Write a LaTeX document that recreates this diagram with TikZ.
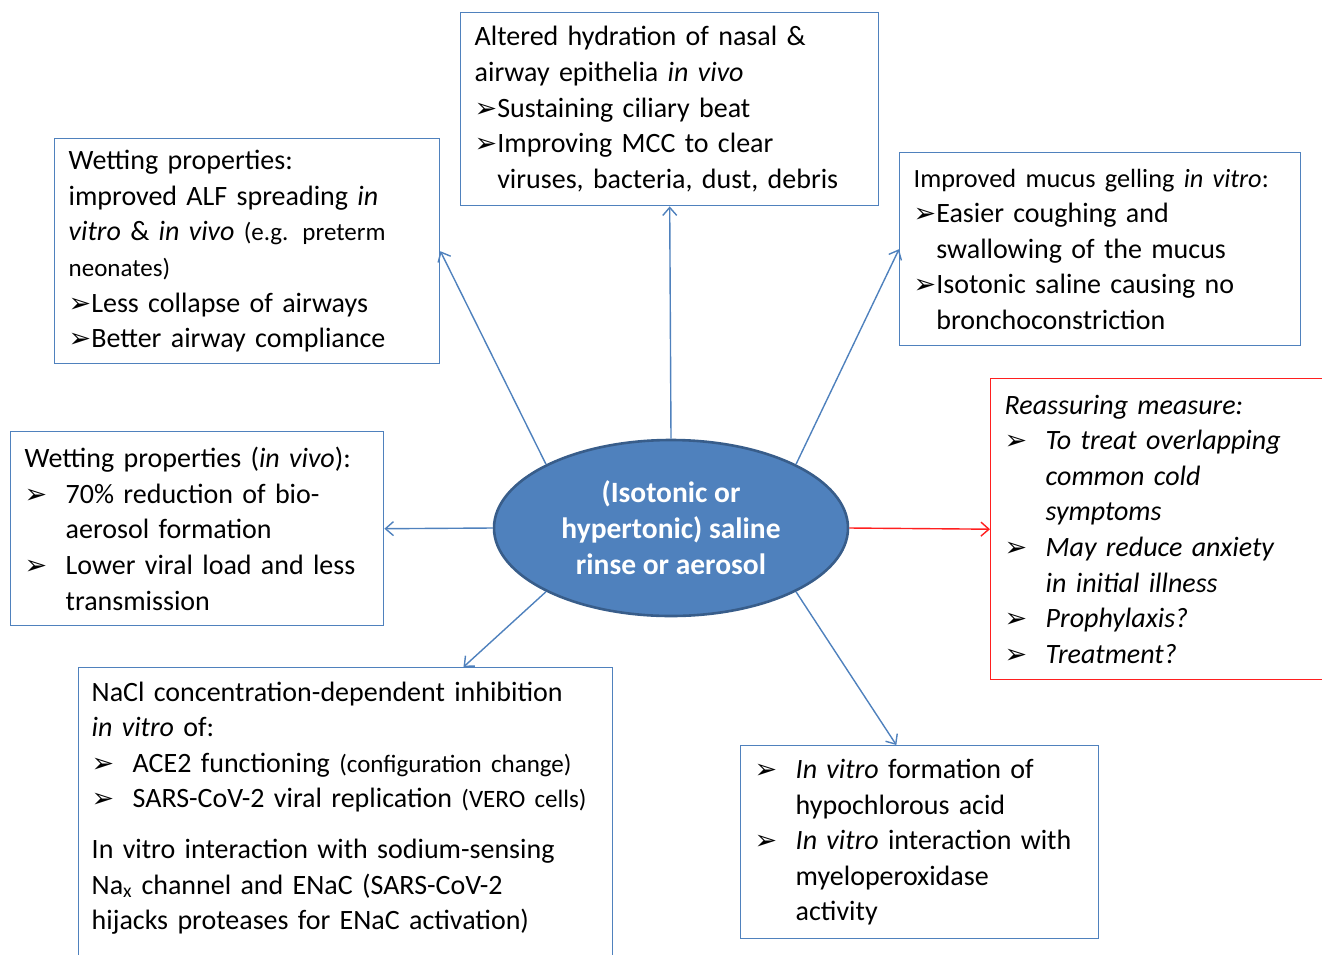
\documentclass[tikz,border=0pt]{standalone}
\usepackage{fontspec}
\setmainfont{Carlito}
\newfontfamily\symfont{DejaVu Sans}
\usepackage{xcolor}
\usepackage{tikz}
\usetikzlibrary{calc,shapes.geometric,arrows.meta}
\definecolor{boxblue}{HTML}{4F81BD}
\definecolor{ellline}{HTML}{385D8A}
\definecolor{warnred}{HTML}{FF1F1F}
\newcommand{\fs}{\fontsize{28}{35.6}\selectfont}
\newcommand{\sm}{\fontsize{25}{30}\selectfont}
\newcommand{\arrbul}{{\upshape\symfont\bfseries\fontsize{27}{27}\selectfont\char"27A2}}
\newcommand{\tabbul}{\makebox[41pt][l]{\arrbul}}
\newcommand{\hang}{\hspace*{41pt}}
\tikzset{
  box/.style={draw=boxblue, line width=1.4pt, anchor=north west, inner xsep=14pt,
    inner ysep=0pt, align=left, font=\fs, text=black},
  redbox/.style={box, draw=warnred},
  link/.style={draw=boxblue, line width=1.4pt, -{Straight Barb[length=8pt,width=14pt]}},
  redlink/.style={link, draw=warnred},
  core/.style={ellipse, draw=ellline, fill=boxblue, line width=2.6pt, minimum width=354pt,
    minimum height=176pt, inner sep=0pt, align=center, text=white,
    font=\fontsize{29.5}{36}\selectfont\bfseries},
}
\begin{document}
\begin{tikzpicture}[x=1pt,y=-1pt]
  \useasboundingbox (0,0) rectangle (1322,954);
  \node[core] (ctr) at (671,528) {(Isotonic or\\hypertonic) saline\\rinse or aerosol};
  % boxes round the centre
  \node[box, text width=390pt, minimum height=193pt] (hyd) at (460,12)
    {Altered hydration of nasal \&\\
     airway epithelia \textit{in vivo}\\
     \arrbul Sustaining ciliary beat\\
     \arrbul Improving MCC to clear\\
     \phantom{\arrbul}viruses, bacteria, dust, debris};
  \node[box, text width=357pt, minimum height=225pt] (wet) at (54,138)
    {Wetting properties:\\
     improved ALF spreading \textit{in}\\
     \textit{vitro} \& \textit{in vivo} {\sm (e.g. preterm}\\
     {\sm neonates)}\\
     \arrbul Less collapse of airways\\
     \arrbul Better airway compliance};
  \node[box, text width=373pt, minimum height=193pt] (muc) at (899,152)
    {{\fontsize{26.3}{30}\selectfont Improved mucus gelling \textit{in vitro}:}\\
     \arrbul Easier coughing and\\
     \phantom{\arrbul}swallowing of the mucus\\
     \arrbul Isotonic saline causing no\\
     \phantom{\arrbul}bronchoconstriction};
  \node[box, text width=345pt, minimum height=194pt] (aer) at (10,431)
    {Wetting properties (\textit{in vivo}):\\
     \tabbul 70\% reduction of bio-\\
     \hang aerosol formation\\
     \tabbul Lower viral load and less\\
     \hang transmission};
  \node[redbox, text width=304pt, minimum height=301pt, font=\fs\itshape] (reas) at (990,378)
    {Reassuring measure:\\
     \tabbul To treat overlapping\\
     \hang common cold\\
     \hang symptoms\\
     \tabbul May reduce anxiety\\
     \hang in initial illness\\
     \tabbul Prophylaxis?\\
     \tabbul Treatment?};
  \node[box, text width=508pt, inner xsep=13pt, inner ysep=14pt] (nacl) at (78,667)
    {NaCl concentration-dependent inhibition\\
     \textit{in vitro} of:\\
     \tabbul ACE2 functioning {\sm (configuration change)}\\
     \tabbul SARS-CoV-2 viral replication {\sm (VERO cells)}\\[15pt]
     In vitro interaction with sodium-sensing\\
     Na\textsubscript{x} channel and ENaC (SARS-CoV-2\\
     hijacks proteases for ENaC activation)\\
     \mbox{}};
  \node[box, text width=330pt, minimum height=193pt] (hoc) at (740,745)
    {\tabbul\textit{In vitro} formation of\\
     \hang hypochlorous acid\\
     \tabbul\textit{In vitro} interaction with\\
     \hang myeloperoxidase\\
     \hang activity};
  % arrows out of the ellipse
  \foreach \a/\b in {ctr.north/hyd.south, ctr.153/wet.east, ctr.27/muc.west, ctr.west/aer.east}
    \draw[link] (\a) -- (\b);
  \draw[link] (ctr.207) -- ($(nacl.north west)!0.72!(nacl.north east)$);
  \draw[link] (ctr.-27) -- ($(hoc.north west)!0.435!(hoc.north east)$);
  \draw[redlink] (ctr.east) -- (reas.west);
\end{tikzpicture}
\end{document}
